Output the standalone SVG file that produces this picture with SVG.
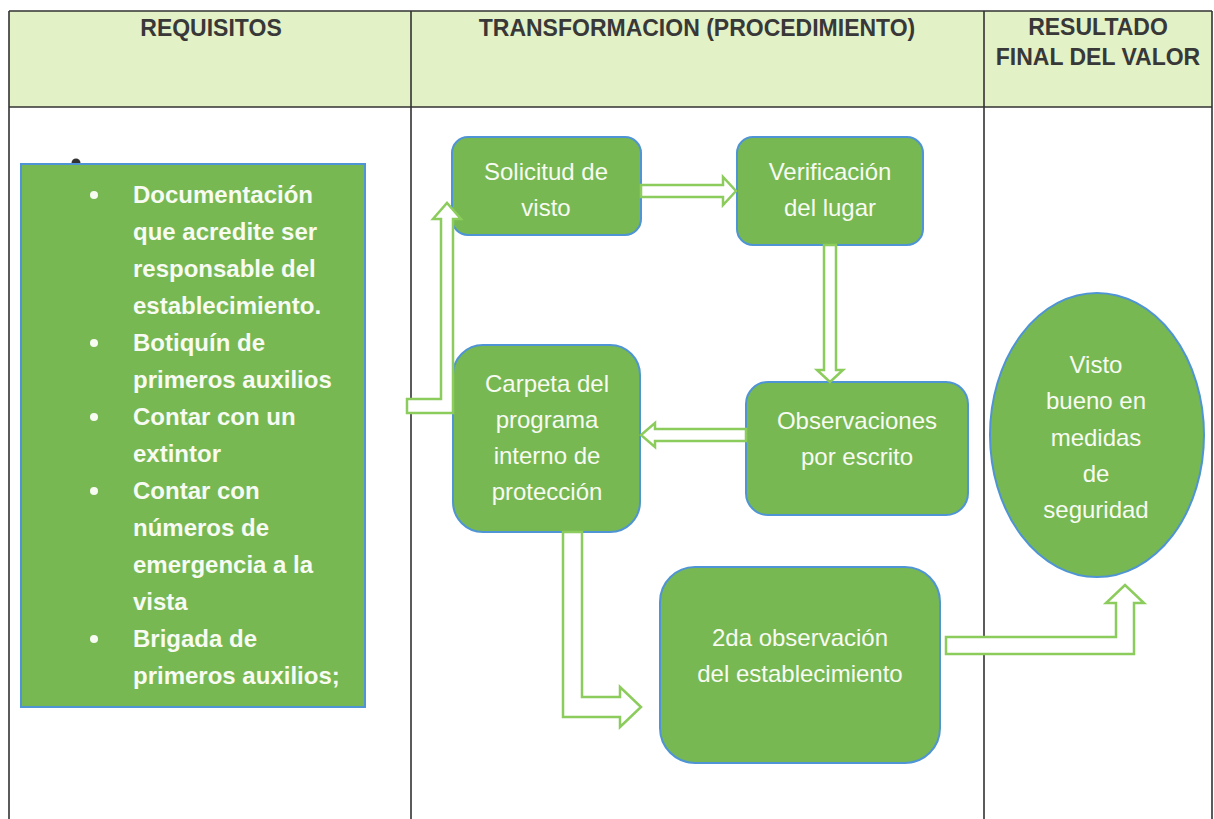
<svg xmlns="http://www.w3.org/2000/svg" width="1214" height="819" viewBox="0 0 1214 819">
<style>
.hdr{font-family:"Liberation Sans",Arial,sans-serif;font-weight:bold;font-size:23px;fill:#383838;text-anchor:middle}
.box{fill:#77b852;stroke:#4f94d4;stroke-width:2}
.req{font-family:"Liberation Sans",Arial,sans-serif;font-weight:bold;font-size:24px;fill:#f7fbf2}
.lbl{font-family:"Liberation Sans",Arial,sans-serif;font-size:24px;fill:#f7fbf2;text-anchor:middle}
.arr{fill:#ffffff;stroke:#8ccc5c;stroke-width:2.5;stroke-linejoin:miter}
.grid{stroke:#333;stroke-width:1.6;fill:none}
</style>
<rect width="1214" height="819" fill="#ffffff"/>
<g id="table">
<rect x="9" y="11" width="1203" height="96" fill="#e3f1c6"/>
<path class="grid" d="M9,11 H1212 M9,107 H1212 M9,11 V819 M411,11 V819 M984,11 V819 M1212,11 V819"/>
<text class="hdr" x="211" y="36">REQUISITOS</text>
<text class="hdr" x="697" y="36">TRANSFORMACION (PROCEDIMIENTO)</text>
<text class="hdr" x="1098" y="35">RESULTADO</text>
<text class="hdr" x="1098" y="65">FINAL DEL VALOR</text>
</g>
<g id="requisitos">
<circle cx="76" cy="163" r="4.5" fill="#333"/>
<rect x="21" y="164" width="344" height="543" fill="#77b852" stroke="#4f94d4" stroke-width="2"/>
<g fill="#f7fbf2">
<circle cx="94" cy="195" r="4"/>
<circle cx="94" cy="343" r="4"/>
<circle cx="94" cy="417" r="4"/>
<circle cx="94" cy="491" r="4"/>
<circle cx="94" cy="639" r="4"/>
</g>
<text class="req" x="133" y="203">Documentación</text>
<text class="req" x="133" y="240">que acredite ser</text>
<text class="req" x="133" y="277">responsable del</text>
<text class="req" x="133" y="314">establecimiento.</text>
<text class="req" x="133" y="351">Botiquín de</text>
<text class="req" x="133" y="388">primeros auxilios</text>
<text class="req" x="133" y="425">Contar con un</text>
<text class="req" x="133" y="462">extintor</text>
<text class="req" x="133" y="499">Contar con</text>
<text class="req" x="133" y="536">números de</text>
<text class="req" x="133" y="573">emergencia a la</text>
<text class="req" x="133" y="610">vista</text>
<text class="req" x="133" y="647">Brigada de</text>
<text class="req" x="133" y="684">primeros auxilios;</text>
</g>
<g id="solicitud">
<rect class="box" x="452" y="137" width="189" height="98" rx="16"/>
<text class="lbl" x="546" y="180">Solicitud de</text>
<text class="lbl" x="546" y="216">visto</text>
</g>
<g id="verificacion">
<rect class="box" x="737" y="137" width="186" height="108" rx="16"/>
<text class="lbl" x="830" y="180">Verificación</text>
<text class="lbl" x="830" y="216">del lugar</text>
</g>
<g id="observaciones">
<rect class="box" x="746" y="382" width="222" height="133" rx="22"/>
<text class="lbl" x="857" y="429">Observaciones</text>
<text class="lbl" x="857" y="465">por escrito</text>
</g>
<g id="carpeta">
<rect class="box" x="453" y="345" width="187" height="187" rx="30"/>
<text class="lbl" x="547" y="392">Carpeta del</text>
<text class="lbl" x="547" y="428">programa</text>
<text class="lbl" x="547" y="464">interno de</text>
<text class="lbl" x="547" y="500">protección</text>
</g>
<g id="segunda">
<rect class="box" x="660" y="567" width="280" height="196" rx="35"/>
<text class="lbl" x="800" y="646">2da observación</text>
<text class="lbl" x="800" y="682">del establecimiento</text>
</g>
<g id="visto">
<ellipse class="box" cx="1097" cy="435" rx="107" ry="142"/>
<text class="lbl" x="1096" y="373">Visto</text>
<text class="lbl" x="1096" y="409">bueno en</text>
<text class="lbl" x="1096" y="446">medidas</text>
<text class="lbl" x="1096" y="482">de</text>
<text class="lbl" x="1096" y="518">seguridad</text>
</g>
<g id="connectors">
<polygon class="arr" points="641,185 723,185 723,177 736,191 723,205 723,197 641,197"/>
<polygon class="arr" points="824,245 824,370 817,370 830,382 843,370 836,370 836,245"/>
<polygon class="arr" points="746,429 655,429 655,423 641,435 655,447 655,441 746,441"/>
<polygon class="arr" points="407,399 441,399 441,219 433,219 447,203 461,219 453,219 453,413 407,413"/>
<polygon class="arr" points="563,532 563,717 620,717 620,727 641,707 620,687 620,697 582,697 582,532"/>
<polygon class="arr" points="946,637 1116,637 1116,603 1106,603 1125,585 1144,603 1134,603 1134,654 946,654"/>
</g>
</svg>
